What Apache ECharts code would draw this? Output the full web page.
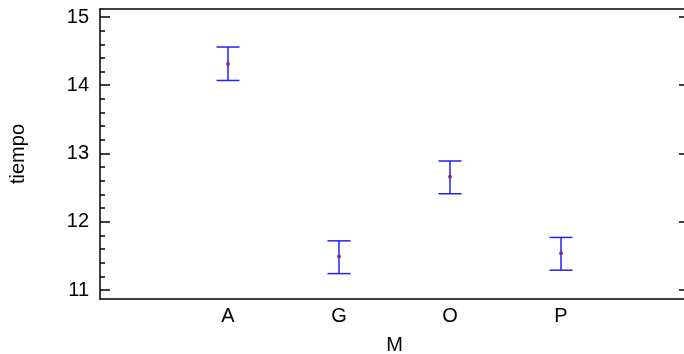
<!DOCTYPE html>
<html>
<head>
<meta charset="utf-8">
<script src="https://cdn.jsdelivr.net/npm/echarts@6/dist/echarts.min.js"></script>
<style>
  html, body { margin: 0; padding: 0; background: #fff; }
  #chart { width: 684px; height: 354px; }
</style>
</head>
<body>
<div id="chart"></div>
<script>
// Group means of "tiempo" by level of M, with interval bars
const categories = ['A', 'G', 'O', 'P'];
const means = [14.31, 11.49, 12.66, 11.54];
const lower = [14.07, 11.24, 12.41, 11.29];
const upper = [14.56, 11.72, 12.89, 11.77];
const yMajorTicks = [11, 12, 13, 14, 15];
const yMinorTicks = [11.2, 11.4, 11.6, 11.8, 12.2, 12.4, 12.6, 12.8, 13.2, 13.4, 13.6, 13.8, 14.2, 14.4, 14.6, 14.8];

const FONT = 'Liberation Sans';
const xPositions = categories.map((_, i) => i + 1);
const Y_MIN = 10.868, Y_MAX = 15.117;
const X_MIN = -0.153, X_MAX = 5.153;

const chart = echarts.init(document.getElementById('chart'));

const gridBox = { left: 100, top: 9, right: -5, bottom: 55, containLabel: false, outerBoundsMode: 'none' };
const axisLineStyle = { color: '#000', width: 1.5 };

chart.setOption({
  animation: false,
  backgroundColor: '#ffffff',
  // grid 0 holds the data and main frame; grid 1 overlays it and only carries the minor ticks
  grid: [Object.assign({}, gridBox), Object.assign({}, gridBox)],
  xAxis: [
    {
      gridIndex: 0,
      type: 'value',
      min: X_MIN,
      max: X_MAX,
      position: 'bottom',
      name: 'M',
      nameLocation: 'middle',
      nameGap: 36,
      nameTextStyle: { fontFamily: FONT, fontSize: 20, color: '#000' },
      axisLine: { show: true, onZero: false, lineStyle: axisLineStyle },
      axisTick: { show: false },
      splitLine: { show: false },
      axisLabel: {
        customValues: xPositions,
        formatter: v => categories[Math.round(v) - 1] || '',
        fontFamily: FONT, fontSize: 20, color: '#000', margin: 7
      }
    },
    {
      gridIndex: 0,
      type: 'value',
      min: X_MIN,
      max: X_MAX,
      position: 'top',
      axisLine: { show: true, onZero: false, lineStyle: axisLineStyle },
      axisTick: { show: false },
      axisLabel: { show: false },
      splitLine: { show: false }
    },
    {
      gridIndex: 1,
      type: 'value',
      min: X_MIN,
      max: X_MAX,
      show: false
    }
  ],
  yAxis: [
    {
      gridIndex: 0,
      type: 'value',
      min: Y_MIN,
      max: Y_MAX,
      position: 'left',
      name: 'tiempo',
      nameLocation: 'middle',
      nameGap: 72,
      nameRotate: 90,
      nameTextStyle: { fontFamily: FONT, fontSize: 20, color: '#000' },
      splitLine: { show: false },
      axisLine: { show: true, onZero: false, lineStyle: axisLineStyle },
      axisTick: { show: true, inside: true, length: 10, customValues: yMajorTicks, lineStyle: axisLineStyle },
      axisLabel: { customValues: yMajorTicks, fontFamily: FONT, fontSize: 20, color: '#000', margin: 11 }
    },
    {
      gridIndex: 0,
      type: 'value',
      min: Y_MIN,
      max: Y_MAX,
      position: 'right',
      splitLine: { show: false },
      axisLine: { show: true, onZero: false, lineStyle: axisLineStyle },
      axisTick: { show: true, inside: true, length: 10, customValues: yMajorTicks, lineStyle: axisLineStyle },
      axisLabel: { show: false }
    },
    {
      gridIndex: 1,
      type: 'value',
      min: Y_MIN,
      max: Y_MAX,
      position: 'left',
      splitLine: { show: false },
      axisLine: { show: false, onZero: false },
      axisTick: { show: true, inside: true, length: 5, customValues: yMinorTicks, lineStyle: axisLineStyle },
      axisLabel: { show: false }
    }
  ],
  series: [
    {
      type: 'custom',
      name: 'intervalo',
      xAxisIndex: 0,
      yAxisIndex: 0,
      data: categories.map((c, i) => [xPositions[i], lower[i], upper[i]]),
      renderItem: function (params, api) {
        const x = api.value(0);
        const lo = api.coord([x, api.value(1)]);
        const hi = api.coord([x, api.value(2)]);
        const half = 11.5;
        const style = { stroke: '#2020ff', lineWidth: 1.5 };
        return {
          type: 'group',
          children: [
            { type: 'line', shape: { x1: lo[0], y1: lo[1], x2: hi[0], y2: hi[1] }, style },
            { type: 'line', shape: { x1: hi[0] - half, y1: hi[1], x2: hi[0] + half, y2: hi[1] }, style },
            { type: 'line', shape: { x1: lo[0] - half, y1: lo[1], x2: lo[0] + half, y2: lo[1] }, style }
          ]
        };
      }
    },
    {
      type: 'scatter',
      name: 'media',
      xAxisIndex: 0,
      yAxisIndex: 0,
      z: 5,
      symbol: 'circle',
      symbolSize: 4,
      itemStyle: { color: '#8a1a50' },
      data: categories.map((c, i) => [xPositions[i], means[i]])
    }
  ]
});
</script>
</body>
</html>
